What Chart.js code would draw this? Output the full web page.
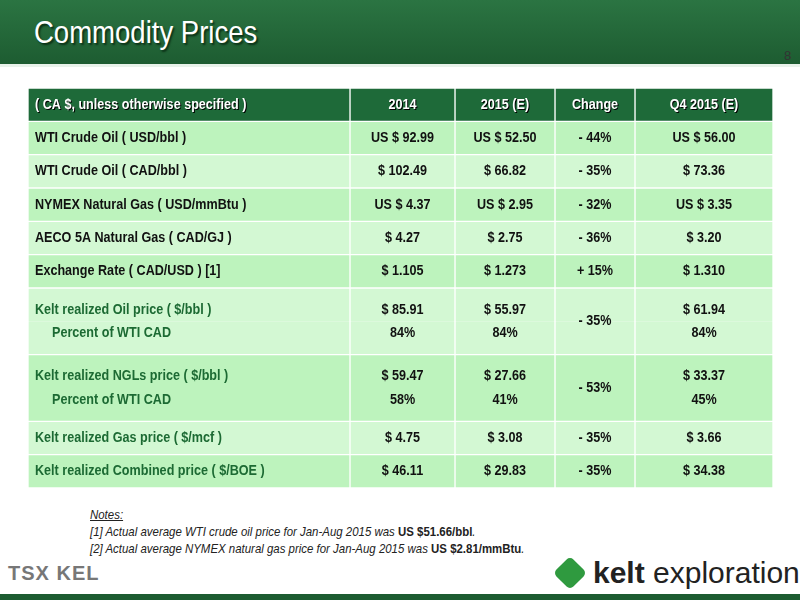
<!DOCTYPE html>
<html>
<head>
<meta charset="utf-8">
<script src="https://cdn.jsdelivr.net/npm/chart.js"></script>
<style>
  body { margin: 0; width: 800px; height: 600px; overflow: hidden; background: #fff; font-family: 'Liberation Sans', sans-serif; position: relative; }
  #band { position: absolute; left: 0; top: 0; width: 800px; height: 64px; background: linear-gradient(#2b7442, #1d5c31); border-bottom: 3px solid #e8f2ea; }
  #title { position: absolute; left: 34px; top: 14px; font-size: 32px; color: #fff; text-shadow: 2px 2px 2px #0b2f16; transform: scaleX(0.86); transform-origin: left; white-space: nowrap; }
  #page { position: absolute; left: 784px; top: 48px; font-size: 13px; color: #333; }
  #wrap { position: absolute; left: 28px; top: 88px; width: 745px; height: 400px; }
  #notes { position: absolute; left: 90px; top: 506px; font-size: 13px; font-style: italic; color: #222; line-height: 17px; transform: scaleX(0.88); transform-origin: left; white-space: nowrap; }
  #notes b { font-style: normal; }
  #tsx { position: absolute; left: 8px; top: 562px; font-size: 20px; font-weight: bold; color: #777; letter-spacing: 1px; }
  #kelt { position: absolute; left: 555px; top: 556px; font-size: 30px; color: #222; white-space: nowrap; }
  #knot { display: inline-block; width: 30px; height: 30px; background: #2f9a3f; border-radius: 6px; transform: rotate(45deg) scale(.8); vertical-align: -5px; margin-right: 8px; }
  #foot { position: absolute; left: 0; top: 594px; width: 800px; height: 6px; background: #1d5c31; }
</style>
</head>
<body>
<div id="band"></div>
<div id="title">Commodity Prices</div>
<div id="page">8</div>
<div id="wrap"><canvas id="tbl" width="745" height="400"></canvas></div>
<div id="notes">
  <u>Notes:</u><br>
  [1] Actual average WTI crude oil price for Jan-Aug 2015 was <b>US $51.66/bbl</b>.<br>
  [2] Actual average NYMEX natural gas price for Jan-Aug 2015 was <b>US $2.81/mmBtu</b>.
</div>
<div id="tsx">TSX KEL</div>
<div id="kelt"><span id="knot"></span><b>kelt</b> exploration</div>
<div id="foot"></div>
<script>
// table content, one entry per drawn row (double rows split into a sub-row)
const rowLabels = ['( CA $, unless otherwise specified )', 'WTI Crude Oil ( USD/bbl )', 'WTI Crude Oil ( CAD/bbl )',
  'NYMEX Natural Gas ( USD/mmBtu )', 'AECO 5A Natural Gas ( CAD/GJ )', 'Exchange Rate ( CAD/USD ) [1]',
  'Kelt realized Oil price ( $/bbl )', 'Percent of WTI CAD', 'Kelt realized NGLs price ( $/bbl )', 'Percent of WTI CAD',
  'Kelt realized Gas price ( $/mcf )', 'Kelt realized Combined price ( $/BOE )'];
const values2014 = ['2014', 'US $ 92.99', '$ 102.49', 'US $ 4.37', '$ 4.27', '$ 1.105', '$ 85.91', '84%', '$ 59.47', '58%', '$ 4.75', '$ 46.11'];
const values2015 = ['2015 (E)', 'US $ 52.50', '$ 66.82', 'US $ 2.95', '$ 2.75', '$ 1.273', '$ 55.97', '84%', '$ 27.66', '41%', '$ 3.08', '$ 29.83'];
const changes = ['Change', '- 44%', '- 35%', '- 32%', '- 36%', '+ 15%', '- 35%', '', '- 53%', '', '- 35%', '- 35%'];
const valuesQ4 = ['Q4 2015 (E)', 'US $ 56.00', '$ 73.36', 'US $ 3.35', '$ 3.20', '$ 1.310', '$ 61.94', '84%', '$ 33.37', '45%', '$ 3.66', '$ 34.38'];
const subRows = [7, 9];      // rows that continue the one above
const keltRows = [6, 7, 8, 9, 10, 11];
const shade = [0, 1, 2, 1, 2, 1, 2, 2, 1, 1, 2, 1]; // 0 header, 1 darker, 2 lighter

const columns = [rowLabels, values2014, values2015, changes, valuesQ4];
const colEdges = [0, 322, 427, 527, 607, 745];
const fills = ['#1e6a39', '#bdf3bd', '#d3f8d3'];
const squeeze = 0.84;

const textPlugin = {
  id: 'cellText',
  afterDatasetsDraw(chart) {
    const ctx = chart.ctx;
    chart.data.datasets.forEach((ds, c) => {
      chart.getDatasetMeta(c).data.forEach((bar, r) => {
        const txt = columns[c][r];
        if (!txt) return;
        const header = r === 0;
        ctx.save();
        ctx.textBaseline = 'middle';
        ctx.font = 'bold 15px "Liberation Sans", sans-serif';
        ctx.fillStyle = header ? '#fff' : (c === 0 && keltRows.includes(r) ? '#1c6a33' : '#111');
        if (header) { ctx.shadowColor = '#000'; ctx.shadowOffsetX = 1; ctx.shadowOffsetY = 1; }
        let y = bar.y;
        if (subRows.includes(r + 1)) y = c === 3 ? bar.y + bar.height / 2 : bar.y + 5;
        if (subRows.includes(r)) y = bar.y - 5;
        let x, align;
        if (c === 0) { align = 'left'; x = bar.base + (subRows.includes(r) ? 24 : 7); }
        else { align = 'center'; x = (bar.base + bar.x) / 2; }
        ctx.textAlign = align;
        ctx.translate(x, y);
        ctx.scale(squeeze, 1);
        ctx.fillText(txt, 0, 0);
        ctx.restore();
      });
    });
  }
};

new Chart(document.getElementById('tbl'), {
  type: 'bar',
  data: {
    labels: rowLabels.map((l, i) => i),
    datasets: columns.map((col, c) => ({
      data: rowLabels.map(() => [colEdges[c], colEdges[c + 1]]),
      backgroundColor: ctx => fills[shade[ctx.dataIndex]],
      borderColor: '#ffffff',
      borderWidth: ctx => ({ left: 1, right: 1, top: subRows.includes(ctx.dataIndex) ? 0 : 1, bottom: subRows.includes(ctx.dataIndex + 1) ? 0 : 1 }),
      borderSkipped: false,
      categoryPercentage: 1,
      barPercentage: 1,
      grouped: false
    }))
  },
  options: {
    indexAxis: 'y',
    responsive: false,
    animation: false,
    layout: { padding: 0 },
    scales: {
      x: { type: 'linear', min: 0, max: 745, display: false },
      y: { display: false }
    },
    plugins: { legend: { display: false }, tooltip: { enabled: false } }
  },
  plugins: [textPlugin]
});
</script>
</body>
</html>
